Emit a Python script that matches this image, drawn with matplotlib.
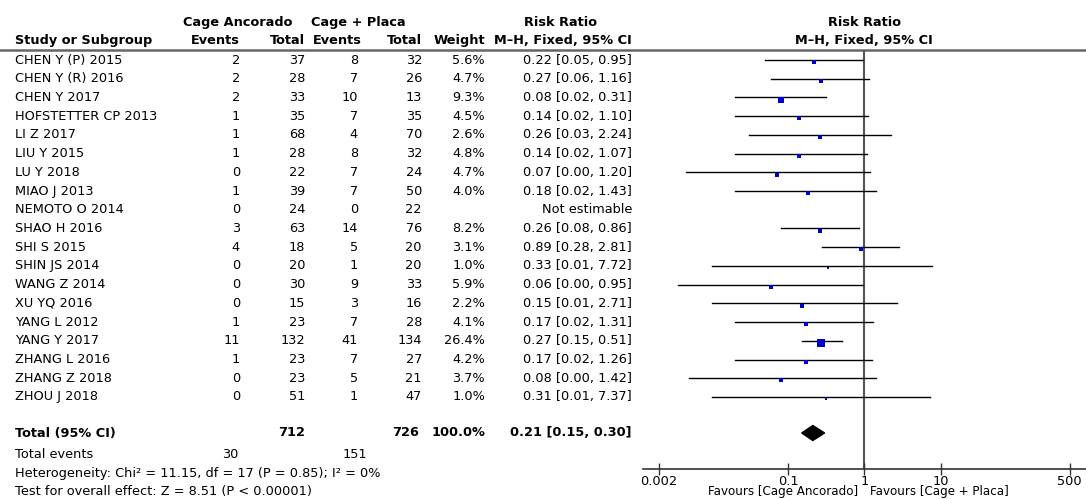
import numpy as np
import matplotlib
matplotlib.use('Agg')
import matplotlib.pyplot as plt
from matplotlib.patches import Polygon

# ---- data ----
studies = ['CHEN Y (P) 2015', 'CHEN Y (R) 2016', 'CHEN Y 2017', 'HOFSTETTER CP 2013',
           'LI Z 2017', 'LIU Y 2015', 'LU Y 2018', 'MIAO J 2013', 'NEMOTO O 2014',
           'SHAO H 2016', 'SHI S 2015', 'SHIN JS 2014', 'WANG Z 2014', 'XU YQ 2016',
           'YANG L 2012', 'YANG Y 2017', 'ZHANG L 2016', 'ZHANG Z 2018', 'ZHOU J 2018']
ev_anc = [2, 2, 2, 1, 1, 1, 0, 1, 0, 3, 4, 0, 0, 0, 1, 11, 1, 0, 0]
n_anc = [37, 28, 33, 35, 68, 28, 22, 39, 24, 63, 18, 20, 30, 15, 23, 132, 23, 23, 51]
ev_pla = [8, 7, 10, 7, 4, 8, 7, 7, 0, 14, 5, 1, 9, 3, 7, 41, 7, 5, 1]
n_pla = [32, 26, 13, 35, 70, 32, 24, 50, 22, 76, 20, 20, 33, 16, 28, 134, 27, 21, 47]
weight = [5.6, 4.7, 9.3, 4.5, 2.6, 4.8, 4.7, 4.0, None, 8.2, 3.1, 1.0, 5.9, 2.2,
          4.1, 26.4, 4.2, 3.7, 1.0]
rr = [0.22, 0.27, 0.08, 0.14, 0.26, 0.14, 0.07, 0.18, None, 0.26, 0.89, 0.33,
      0.06, 0.15, 0.17, 0.27, 0.17, 0.08, 0.31]
ci_lo = [0.05, 0.06, 0.02, 0.02, 0.03, 0.02, 0.0045, 0.02, None, 0.08, 0.28, 0.01,
         0.0036, 0.01, 0.02, 0.15, 0.02, 0.0049, 0.01]
ci_hi = [0.95, 1.16, 0.31, 1.10, 2.24, 1.07, 1.20, 1.43, None, 0.86, 2.81, 7.72,
         0.95, 2.71, 1.31, 0.51, 1.26, 1.42, 7.37]

tot_n_anc, tot_n_pla = 712, 726
tot_ev_anc, tot_ev_pla = 30, 151
tot_rr, tot_lo, tot_hi = 0.21, 0.15, 0.30

ticks = [0.002, 0.1, 1, 10, 500]
tick_labels = ['0.002', '0.1', '1', '10', '500']

# ---- layout (pixels) ----
W, H = 1086, 499
row0, rowh = 60, 18.72
fs = 9.3
blue = '#0000CC'

fig = plt.figure(figsize=(W / 100, H / 100), dpi=100)
bg = fig.add_axes([0, 0, 1, 1])
bg.set_xlim(0, W)
bg.set_ylim(H, 0)
bg.axis('off')

def ry(i):
    return row0 + rowh * i

# header
bg.text(238, 22, 'Cage Ancorado', ha='center', va='center', fontsize=fs, fontweight='bold')
bg.text(358, 22, 'Cage + Placa', ha='center', va='center', fontsize=fs, fontweight='bold')
bg.text(560, 22, 'Risk Ratio', ha='center', va='center', fontsize=fs, fontweight='bold')
bg.text(864, 22, 'Risk Ratio', ha='center', va='center', fontsize=fs, fontweight='bold')
bg.text(15, 40, 'Study or Subgroup', ha='left', va='center', fontsize=fs, fontweight='bold')
for x, s in [(240, 'Events'), (305, 'Total'), (362, 'Events'), (422, 'Total'),
             (485, 'Weight'), (632, 'M\u2013H, Fixed, 95% CI')]:
    bg.text(x, 40, s, ha='right', va='center', fontsize=fs, fontweight='bold')
bg.text(864, 40, 'M\u2013H, Fixed, 95% CI', ha='center', va='center', fontsize=fs, fontweight='bold')
bg.plot([0, W], [49.5, 49.5], color='#666666', lw=1.8)

# study rows
for i, name in enumerate(studies):
    y = ry(i)
    bg.text(15, y, name, ha='left', va='center', fontsize=fs)
    bg.text(240, y, str(ev_anc[i]), ha='right', va='center', fontsize=fs)
    bg.text(305, y, str(n_anc[i]), ha='right', va='center', fontsize=fs)
    bg.text(358, y, str(ev_pla[i]), ha='right', va='center', fontsize=fs)
    bg.text(422, y, str(n_pla[i]), ha='right', va='center', fontsize=fs)
    if rr[i] is None:
        bg.text(632, y, 'Not estimable', ha='right', va='center', fontsize=fs)
    else:
        bg.text(485, y, '%.1f%%' % weight[i], ha='right', va='center', fontsize=fs)
        bg.text(632, y, '%.2f [%.2f, %.2f]' % (rr[i], ci_lo[i], ci_hi[i]),
                ha='right', va='center', fontsize=fs)

# total rows
yt = 433
bg.text(15, yt, 'Total (95% CI)', ha='left', va='center', fontsize=fs, fontweight='bold')
bg.text(305, yt, str(tot_n_anc), ha='right', va='center', fontsize=fs, fontweight='bold')
bg.text(419, yt, str(tot_n_pla), ha='right', va='center', fontsize=fs, fontweight='bold')
bg.text(485, yt, '100.0%', ha='right', va='center', fontsize=fs, fontweight='bold')
bg.text(632, yt, '%.2f [%.2f, %.2f]' % (tot_rr, tot_lo, tot_hi),
        ha='right', va='center', fontsize=fs, fontweight='bold')
bg.text(15, 455, 'Total events', ha='left', va='center', fontsize=fs)
bg.text(238, 455, str(tot_ev_anc), ha='right', va='center', fontsize=fs)
bg.text(367, 455, str(tot_ev_pla), ha='right', va='center', fontsize=fs)
bg.text(15, 474, 'Heterogeneity: Chi\u00b2 = 11.15, df = 17 (P = 0.85); I\u00b2 = 0%',
        ha='left', va='center', fontsize=fs)
bg.text(15, 492, 'Test for overall effect: Z = 8.51 (P < 0.00001)',
        ha='left', va='center', fontsize=fs)

# ---- forest axes ----
ppd = 76.1          # pixels per decade
x1 = 864.4          # pixel of RR = 1
ax_left, ax_right = 643, W
ax_top, ax_bot = 49.5, 469
ax = fig.add_axes([ax_left / W, 1 - ax_bot / H, (ax_right - ax_left) / W, (ax_bot - ax_top) / H])
ax.patch.set_alpha(0)
ax.set_xscale('log')
ax.set_xlim(10 ** ((ax_left - x1) / ppd), 10 ** ((ax_right - x1) / ppd))
ax.set_ylim((ax_bot - row0) / rowh, (ax_top - row0) / rowh)
for s in ['top', 'left', 'right']:
    ax.spines[s].set_visible(False)
ax.spines['bottom'].set_color('#333333')
ax.spines['bottom'].set_linewidth(1.2)
ax.set_yticks([])
ax.set_xticks(ticks)
ax.set_xticklabels(tick_labels, fontsize=fs)
ax.minorticks_off()
ax.tick_params(axis='x', direction='inout', length=8, width=1, color='#333333', pad=0)

ax.axvline(1, color='#555555', lw=1.5, zorder=1)

for i in range(len(studies)):
    if rr[i] is None:
        continue
    ax.plot([ci_lo[i], ci_hi[i]], [i, i], color='black', lw=1.0, zorder=2)
    side = 1.2 + 1.25 * np.sqrt(weight[i])   # pixels
    ax.plot(rr[i], i + 0.12, marker='s', ms=side * 0.72, color=blue, mec=blue, mew=0, zorder=3)

ydia = (yt - row0) / rowh
hd = 7.5 / rowh
dia = Polygon([(tot_lo, ydia), (tot_rr, ydia - hd), (tot_hi, ydia), (tot_rr, ydia + hd)],
              closed=True, color='black', zorder=3)
ax.add_patch(dia)

bg.text(858, 498.5, 'Favours [Cage Ancorado]', ha='right', va='bottom', fontsize=8.6)
bg.text(870, 498.5, 'Favours [Cage + Placa]', ha='left', va='bottom', fontsize=8.6)

fig.savefig('out.png', dpi=100)
